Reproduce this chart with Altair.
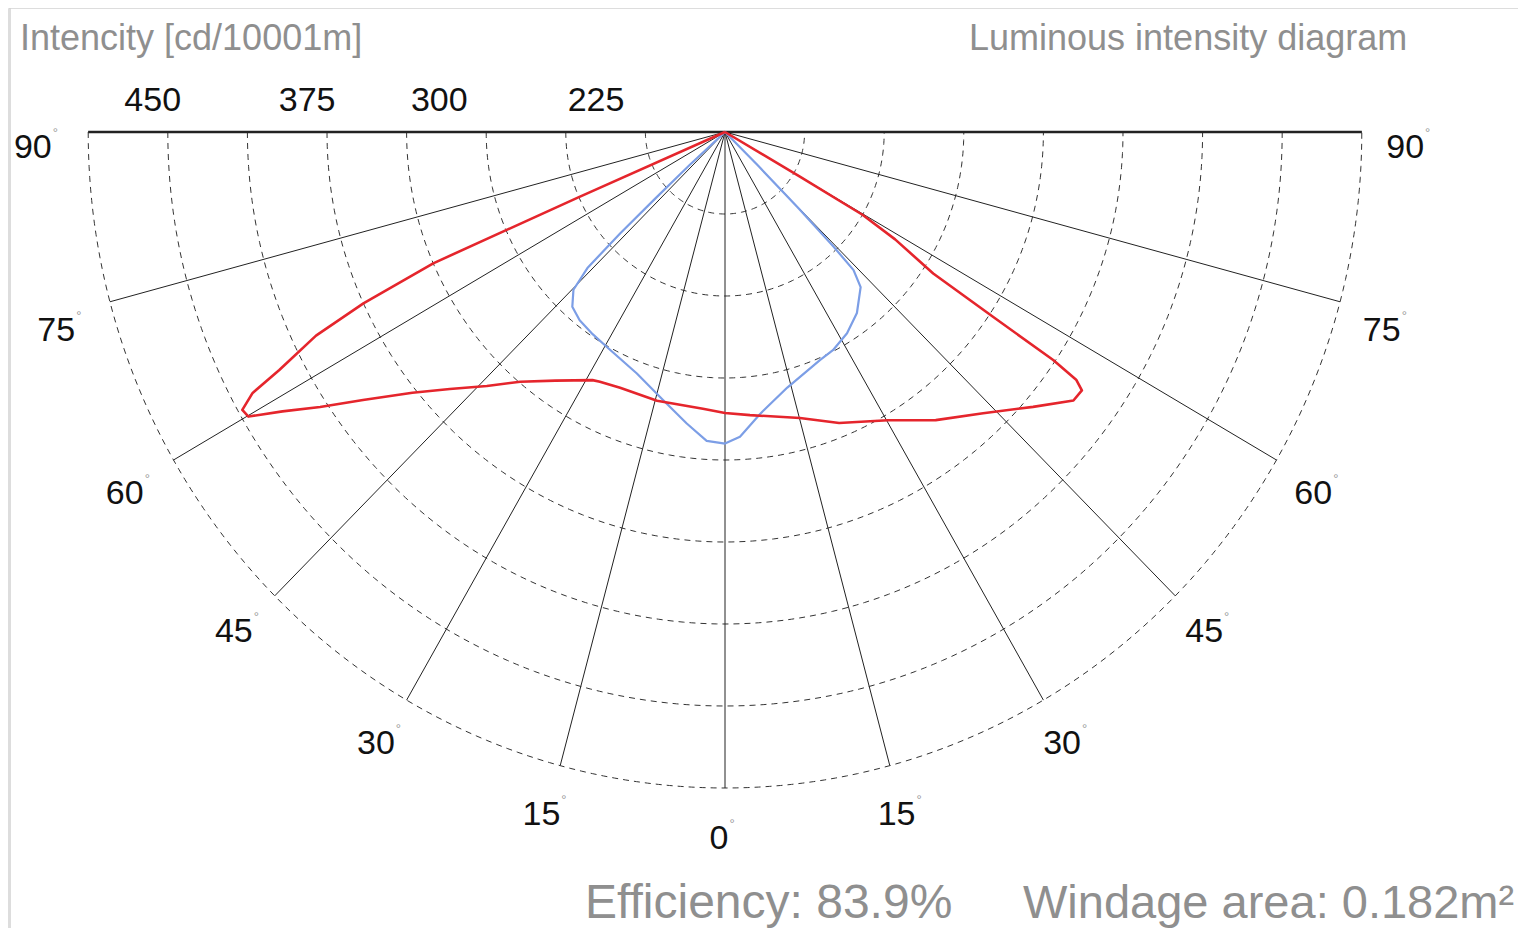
import altair as alt
import pandas as pd

# ---------------- data ----------------
RING_COUNT = 8            # dashed rings
CD_PER_RING = 75          # cd/klm per ring
SPOKE_ANGLES = [-90, -75, -60, -45, -30, -15, 0, 15, 30, 45, 60, 75, 90]
DEG_LABELS = ["90", "75", "60", "45", "30", "15", "0", "15", "30", "45", "60", "75", "90"]

VALUE_LABELS = ["450", "375", "300", "225"]
VALUE_LABEL_RING = [7.19, 5.25, 3.59, 1.62]   # where the labels sit, in rings, left of centre

# red curve (signed angle from nadir, intensity cd/klm)
RED_ANGLE = [-90, -67.5, -66.6, -66.4, -65.3, -64.2, -62.6, -61.8, -60.8, -59.9, -58.5,
             -56.6, -54.3, -51, -47.8, -44, -40.2, -35.1, -28.8, -27.3, -22.9, -14.6,
             -4.7, 0, 5.2, 15.1, 22, 30.2, 37, 43.4, 49.1, 53.2, 54.9, 55.6, 56, 56.2,
             56.6, 58.5, 59.7, 59.9, 60.2, 90]
RED_CD = [0, 0, 150, 300, 375, 428, 473, 505, 521, 519, 489,
          457, 420, 379, 350, 323, 299, 278, 259, 257, 254, 254,
          254, 257, 260, 271, 287, 305, 330, 354, 384, 410, 411, 401, 373, 305,
          235, 188, 150, 82, 0, 0]

# blue curve
BLUE_ANGLE = [-90, -48.5, -47.8, -47.2, -46.8, -46.2, -44.7, -42, -38.5, -34, -29.5,
              -20.6, -13.4, -7.7, -3.5, 0, 2.9, 7.3, 14.1, 23.2, 27, 32, 36.9, 42,
              43.8, 44.3, 44.8, 45.3, 46, 90]
BLUE_CD = [0, 0, 45, 90, 135, 179, 203, 215, 220, 223, 226,
           236, 252, 269, 283, 285, 279, 260, 241, 227, 224, 217, 207, 191,
           175, 146, 98, 45, 0, 0]

# ---------------- layout (styles / geometry) ----------------
W, H = 1510, 920
PX_X, PX_Y = 79.6, 82.0      # pixels per ring, horizontally / vertically
CX, CY = 717, 124            # centre inside the plot area
XMIN, XMAX = -CX / PX_X, (W - CX) / PX_X
YMIN, YMAX = -(H - CY) / PX_Y, CY / PX_Y
LABEL_R = 8.62
FONT = "Liberation Sans"
FS = 34

xs = alt.Scale(domain=[XMIN, XMAX], nice=False, zero=False)
ys = alt.Scale(domain=[YMIN, YMAX], nice=False, zero=False)

def X(f):
    return alt.X(f, type="quantitative", scale=xs, axis=None)

def Y(f):
    return alt.Y(f, type="quantitative", scale=ys, axis=None)

# dashed rings
ring_list = "[" + ",".join(str(k) for k in range(1, RING_COUNT + 1)) + "]"
rings = (
    alt.Chart(alt.sequence(-90, 91, 1, as_="a"))
    .transform_calculate(k=ring_list)
    .transform_flatten(["k"])
    .transform_calculate(
        x="datum.k*sin(datum.a*PI/180)",
        y="-datum.k*cos(datum.a*PI/180)",
    )
    .mark_line(color="#333333", strokeWidth=1, strokeDash=[6, 5])
    .encode(x=X("x"), y=Y("y"), detail="k:N", order="a:Q")
)

# spokes
spokes = (
    alt.Chart(pd.DataFrame({"a": SPOKE_ANGLES}))
    .transform_calculate(
        x0="0", y0="0",
        x1=f"{RING_COUNT}*sin(datum.a*PI/180)",
        y1=f"-{RING_COUNT}*cos(datum.a*PI/180)",
    )
    .mark_rule(color="#222222", strokeWidth=1)
    .encode(x=X("x0"), y=Y("y0"), x2="x1:Q", y2="y1:Q")
)

# thick horizontal diameter
diam = (
    alt.Chart(pd.DataFrame({"a": [SPOKE_ANGLES[0]], "b": [SPOKE_ANGLES[-1]]}))
    .transform_calculate(
        x0=f"{RING_COUNT}*sin(datum.a*PI/180)",
        x1=f"{RING_COUNT}*sin(datum.b*PI/180)",
        y0="0",
    )
    .mark_rule(color="#222222", strokeWidth=2.6)
    .encode(x=X("x0"), x2="x1:Q", y=Y("y0"))
)

def curve(angles, cds, color, width):
    df = pd.DataFrame({"a": angles, "cd": cds, "i": list(range(len(angles)))})
    return (
        alt.Chart(df)
        .transform_calculate(
            x=f"datum.cd/{CD_PER_RING}*sin(datum.a*PI/180)",
            y=f"-datum.cd/{CD_PER_RING}*cos(datum.a*PI/180)",
        )
        .mark_line(color=color, strokeWidth=width, strokeJoin="round")
        .encode(x=X("x"), y=Y("y"), order="i:Q")
    )

blue = curve(BLUE_ANGLE, BLUE_CD, "#7c9ee6", 2.2)
red = curve(RED_ANGLE, RED_CD, "#e5252c", 2.6)

# degree labels
deg_df = pd.DataFrame({"a": SPOKE_ANGLES, "label": DEG_LABELS})
deg_base = alt.Chart(deg_df).transform_calculate(
    aa="abs(datum.a)",
).transform_calculate(
    lx=f"{LABEL_R}*sin(datum.a*PI/180)",
    ly=f"-{LABEL_R}*cos(datum.a*PI/180) - (datum.aa >= 75 ? 0.2 : (datum.aa >= 60 ? 0.1 : 0))",
).transform_calculate(
    dx_deg=f"datum.lx + (length(datum.label)*0.278*{FS} - 5)/{PX_X}",
    dy_deg=f"datum.ly + 15/{PX_Y}",
)
deg_text = deg_base.mark_text(
    font=FONT, fontSize=FS, color="#111111", align="center", baseline="middle", dx=-6
).encode(x=X("lx"), y=Y("ly"), text="label:N")
deg_sign = deg_base.mark_text(
    font=FONT, fontSize=13, color="#999999", align="left", baseline="middle"
).encode(x=X("dx_deg"), y=Y("dy_deg"), text=alt.value("°"))

# intensity value labels on the top line
val_df = pd.DataFrame({"label": VALUE_LABELS, "r": VALUE_LABEL_RING})
val_text = (
    alt.Chart(val_df)
    .transform_calculate(x="-datum.r", y=f"31/{PX_Y}")
    .mark_text(font=FONT, fontSize=FS, color="#111111", align="center", baseline="middle")
    .encode(x=X("x"), y=Y("y"), text="label:N")
)

# annotations
one = pd.DataFrame({"o": [0]})
def note(txt, px, py, size, align="left"):
    return alt.Chart(one).mark_text(
        font=FONT, fontSize=size, color="#8f8f8f", align=align, baseline="alphabetic"
    ).encode(x=alt.value(px), y=alt.value(py), text=alt.value(txt))

t1 = note("Intencity [cd/10001m]", 12, 42, 36)
t2 = note("Luminous intensity diagram", 961, 42, 36)
t3 = note("Efficiency: 83.9%", 577, 910, 48)
t4 = note("Windage area: 0.182m²", 1015, 910, 47)

frame = alt.Chart(one).mark_rule(color="#d2d2d2", strokeWidth=1.5).encode(
    x=alt.value(2)
)

chart = alt.layer(
    frame, rings, spokes, diam, blue, red, deg_text, deg_sign, val_text, t1, t2, t3, t4
).properties(
    width=W, height=H, autosize=alt.AutoSizeParams(type="none"),
    padding={"left": 0, "top": 0, "right": 0, "bottom": 0},
).configure_view(strokeWidth=0, stroke="transparent").configure(background="white")

chart.save("out.html", embed_options={"renderer": "svg", "actions": False})
